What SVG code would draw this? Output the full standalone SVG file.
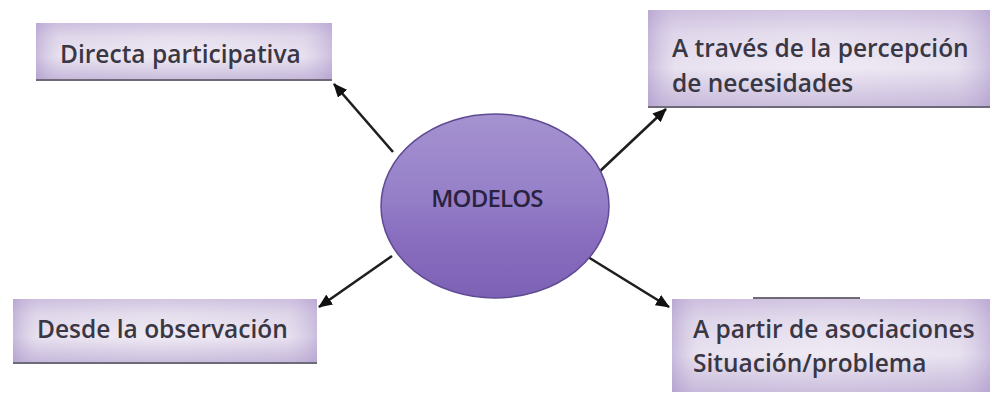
<svg xmlns="http://www.w3.org/2000/svg" width="992" height="394" viewBox="0 0 992 394">
<style>
.lbl{font-family:"Open Sans","Noto Sans","DejaVu Sans",sans-serif;font-size:24.5px;font-weight:600;fill:#3a3744;}
.ctr{font-family:"Open Sans","Noto Sans","DejaVu Sans",sans-serif;font-size:24px;font-weight:600;fill:#2a2240;letter-spacing:-0.8px;}
.box{fill:url(#vg);}
.ov{fill:url(#hg);}
.shadow{stroke:#6f6a78;stroke-width:2;}
.conn{stroke:#1e1e1e;stroke-width:2.6;fill:none;marker-end:url(#ah);}
</style>
<defs>
<linearGradient id="vg" x1="0" y1="0" x2="0" y2="1">
<stop offset="0" stop-color="#cdbfdf"/>
<stop offset="0.25" stop-color="#e3dbec"/>
<stop offset="0.6" stop-color="#ede8f3"/>
<stop offset="1" stop-color="#c6b8da"/>
</linearGradient>
<linearGradient id="hg" x1="0" y1="0" x2="1" y2="0">
<stop offset="0" stop-color="#a994c9" stop-opacity="0.55"/>
<stop offset="0.08" stop-color="#c9bcdc" stop-opacity="0.15"/>
<stop offset="0.5" stop-color="#ffffff" stop-opacity="0.1"/>
<stop offset="0.9" stop-color="#c9bcdc" stop-opacity="0.15"/>
<stop offset="1" stop-color="#a994c9" stop-opacity="0.5"/>
</linearGradient>
<linearGradient id="eg" x1="0" y1="0" x2="0" y2="1">
<stop offset="0" stop-color="#a592d0"/>
<stop offset="0.45" stop-color="#9580c8"/>
<stop offset="0.65" stop-color="#8a6fc0"/>
<stop offset="1" stop-color="#7c61b5"/>
</linearGradient>
<marker id="ah" markerWidth="14" markerHeight="12" refX="13" refY="6" orient="auto" markerUnits="userSpaceOnUse">
<path d="M0,0 L14,6 L0,12 z" fill="#111"/>
</marker>
</defs>
<g id="connectors">
<line class="conn" x1="393" y1="152" x2="334" y2="84"/>
<line class="conn" x1="598" y1="173" x2="666" y2="109"/>
<line class="conn" x1="392" y1="256" x2="319" y2="307"/>
<line class="conn" x1="588" y1="257" x2="669" y2="307"/>
</g>
<g id="n-directa">
<rect class="box" x="36" y="23" width="296" height="56"/>
<rect class="ov" x="36" y="23" width="296" height="56"/>
<line class="shadow" x1="36" y1="80" x2="332" y2="80"/>
<text class="lbl" x="60" y="63">Directa participativa</text>
</g>
<g id="n-traves">
<rect class="box" x="648" y="10" width="342" height="96"/>
<rect class="ov" x="648" y="10" width="342" height="96"/>
<line class="shadow" x1="648" y1="107" x2="990" y2="107"/>
<text class="lbl" x="672" y="57">A través de la percepción</text>
<text class="lbl" x="672" y="92">de necesidades</text>
</g>
<g id="n-desde">
<rect class="box" x="13" y="299" width="304" height="63"/>
<rect class="ov" x="13" y="299" width="304" height="63"/>
<line class="shadow" x1="13" y1="363" x2="317" y2="363"/>
<text class="lbl" x="37" y="338">Desde la observación</text>
</g>
<g id="n-partir">
<rect class="box" x="672" y="299" width="318" height="93"/>
<rect class="ov" x="672" y="299" width="318" height="93"/>
<line class="shadow" x1="753" y1="298" x2="860" y2="298"/>
<text class="lbl" x="693" y="338">A partir de asociaciones</text>
<text class="lbl" x="693" y="372">Situación/problema</text>
</g>
<g id="n-modelos">
<ellipse cx="495" cy="206" rx="114" ry="92" fill="url(#eg)" stroke="#5f4b93" stroke-width="1.5"/>
<text class="ctr" x="487" y="207" text-anchor="middle">MODELOS</text>
</g>
</svg>
